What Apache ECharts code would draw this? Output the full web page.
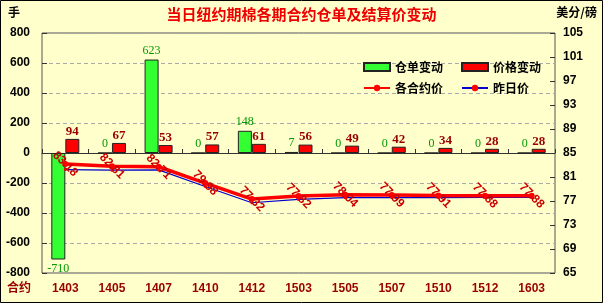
<!DOCTYPE html>
<html><head><meta charset="utf-8">
<script src="https://cdn.jsdelivr.net/npm/echarts@6/dist/echarts.min.js"></script>
<style>html,body{margin:0;padding:0;background:#FFFFCC}#c{width:603px;height:303px}</style>
</head><body><div id="c"></div>
<script>
var categories = ['1403','1405','1407','1410','1412','1503','1505','1507','1510','1512','1603'];
var receiptChange = [-710, 0, 623, 0, 148, 7, 0, 0, 0, 0, 0];
var priceChange = [94, 67, 53, 57, 61, 56, 49, 42, 34, 28, 28];
var todayPrice = [83.18, 82.81, 82.71, 79.98, 77.32, 77.82, 78.04, 77.99, 77.91, 77.88, 77.88];
var yesterdayPrice = [82.24, 82.14, 82.18, 79.41, 76.71, 77.26, 77.55, 77.57, 77.57, 77.60, 77.60];
var leftTicks = {min: -800, max: 800, interval: 200};
var rightTicks = {min: 65, max: 105, interval: 4};

var numFont = '"Liberation Sans", Arial, sans-serif';
var cjkFont = '"Noto Sans CJK SC", sans-serif';
var chart = echarts.init(document.getElementById('c'), null, {renderer: 'canvas'});

var greenData = receiptChange.map(function (v) {
  if (v < 0) return {value: v, label: {position: 'bottom', distance: 3}};
  return v;
});

chart.setOption({
  backgroundColor: '#FFFFCC',
  animation: false,
  graphic: [
    {type: 'rect', shape: {x: 0.5, y: 0.5, width: 602, height: 302}, style: {fill: 'none', stroke: '#000', lineWidth: 1}},
    {type: 'text', left: 'center', top: 7, style: {text: '当日纽约期棉各期合约仓单及结算价变动', fill: '#EE0000', font: 'bold 15px ' + cjkFont}},
    {type: 'text', left: 8, top: 6, style: {text: '手', fill: '#000', font: 'bold 12px ' + cjkFont}},
    {type: 'text', right: 6, top: 6, style: {text: '美分/磅', fill: '#000', font: 'bold 12px ' + cjkFont}},
    {type: 'text', left: 7, top: 281, style: {text: '合约', fill: '#990000', font: 'bold 12px ' + cjkFont}}
  ],
  legend: [
    {left: 358, top: 56, itemWidth: 26, itemHeight: 8, itemGap: 18,
     data: [{name: '仓单变动', icon: 'rect'}, {name: '价格变动', icon: 'rect'}],
     textStyle: {fontFamily: cjkFont, fontWeight: 'bold', fontSize: 12, color: '#000'}},
    {left: 358, top: 77, itemWidth: 26, itemHeight: 8, itemGap: 18,
     data: ['各合约价', '昨日价'],
     textStyle: {fontFamily: cjkFont, fontWeight: 'bold', fontSize: 12, color: '#000'}}
  ],
  grid: {left: 42, right: 48, top: 33, bottom: 30, show: true, borderColor: '#555', borderWidth: 1, backgroundColor: 'transparent'},
  xAxis: [
    {type: 'category', data: categories, position: 'bottom',
     axisLine: {show: false, onZero: false}, axisTick: {show: false},
     axisLabel: {margin: 10, color: '#990000', fontWeight: 'bold', fontSize: 12, fontFamily: numFont}},
    {type: 'category', data: categories, position: 'bottom',
     axisLine: {show: true, onZero: true, onZeroAxisIndex: 0, lineStyle: {color: '#333', width: 1}},
     axisTick: {show: true, inside: true, length: 4, lineStyle: {color: '#333'}},
     axisLabel: {show: false}}
  ],
  yAxis: [
    {type: 'value', min: leftTicks.min, max: leftTicks.max, interval: leftTicks.interval,
     axisLine: {show: false}, axisTick: {show: true, inside: true, length: 5, lineStyle: {color: '#333'}},
     axisLabel: {margin: 12, color: '#000', fontWeight: 'bold', fontSize: 12, fontFamily: numFont},
     splitLine: {show: true, lineStyle: {color: '#aaa', type: [4, 3]}}},
    {type: 'value', position: 'right', min: rightTicks.min, max: rightTicks.max, interval: rightTicks.interval,
     axisLine: {show: false}, axisTick: {show: true, inside: true, length: 5, lineStyle: {color: '#333'}},
     axisLabel: {margin: 8, color: '#000', fontWeight: 'bold', fontSize: 12, fontFamily: numFont},
     splitLine: {show: false}}
  ],
  series: [
    {name: '仓单变动', type: 'bar', xAxisIndex: 0, yAxisIndex: 0, data: greenData,
     barWidth: 14, barGap: '0%',
     itemStyle: {color: '#33FF33', borderColor: '#222', borderWidth: 1},
     label: {show: true, position: 'top', distance: 3, color: '#009900', fontSize: 12, fontFamily: '"Liberation Serif", serif'}},
    {name: '价格变动', type: 'bar', xAxisIndex: 0, yAxisIndex: 0, data: priceChange,
     barWidth: 14, barGap: '0%',
     itemStyle: {color: '#FF0000', borderColor: '#222', borderWidth: 1},
     label: {show: true, position: 'top', distance: 1, color: '#990000', fontWeight: 'bold', fontSize: 13, fontFamily: '"Liberation Serif", serif'}},
    {name: '昨日价', type: 'line', xAxisIndex: 0, yAxisIndex: 1, data: yesterdayPrice,
     symbol: 'circle', symbolSize: 3, showAllSymbol: true,
     lineStyle: {color: '#0000CC', width: 1.2}, itemStyle: {color: '#FF0000'}, z: 3},
    {name: '各合约价', type: 'line', xAxisIndex: 0, yAxisIndex: 1, data: todayPrice,
     symbol: 'circle', symbolSize: 6, showAllSymbol: true,
     lineStyle: {color: '#FF0000', width: 3.5}, itemStyle: {color: '#FF0000'}, z: 4,
     label: {show: true, position: 'inside', rotate: -45, color: '#CC0000', fontSize: 12, fontWeight: 'bold',
             fontFamily: numFont, formatter: function (p) { return p.value.toFixed(2); }}}
  ]
});
</script></body></html>
